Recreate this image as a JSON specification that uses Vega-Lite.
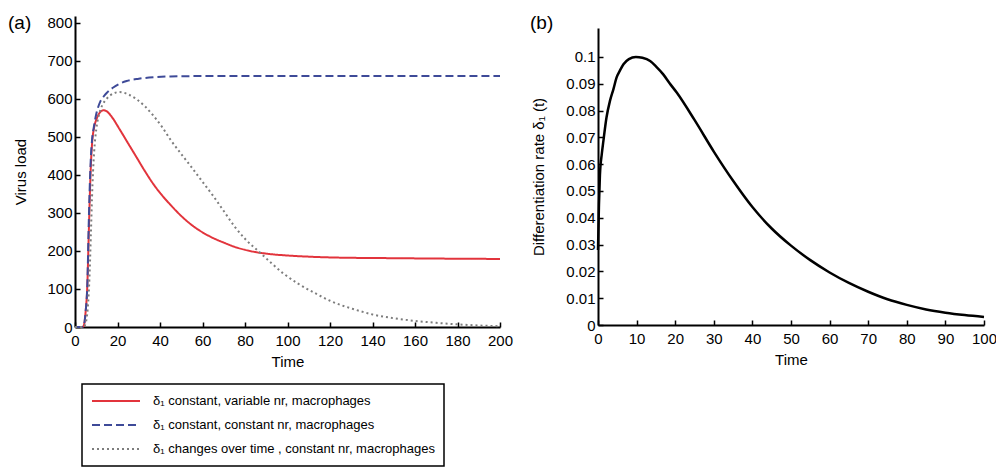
{
  "$schema": "https://vega.github.io/schema/vega-lite/v6.json",
  "padding": {"left": 8, "top": 14, "right": 4, "bottom": 0},
  "background": "white",
  "config": {
    "font": "Liberation Sans",
    "view": {"stroke": null},
    "concat": {"spacing": 17},
    "axis": {
      "domainColor": "black",
      "domainWidth": 2,
      "tickColor": "black",
      "tickWidth": 1.5,
      "tickSize": -5,
      "labelFontSize": 15,
      "labelColor": "black",
      "labelFlush": false,
      "titleFontSize": 15,
      "titleFontWeight": "normal",
      "titleColor": "black",
      "grid": false
    },
    "axisX": {"labelPadding": 11},
    "axisY": {"labelPadding": 8},
    "title": {"fontSize": 19, "fontWeight": "normal", "color": "black"}
  },
  "datasets": {
    "a": [
      {"series": "s1", "t": 0, "v": 0}, {"series": "s1", "t": 3, "v": 0}, {"series": "s1", "t": 4, "v": 2},
      {"series": "s1", "t": 5, "v": 40}, {"series": "s1", "t": 5.8, "v": 110}, {"series": "s1", "t": 6.5, "v": 250},
      {"series": "s1", "t": 7, "v": 350}, {"series": "s1", "t": 7.5, "v": 430}, {"series": "s1", "t": 8, "v": 480},
      {"series": "s1", "t": 9, "v": 525}, {"series": "s1", "t": 10, "v": 545}, {"series": "s1", "t": 11, "v": 558},
      {"series": "s1", "t": 12, "v": 566}, {"series": "s1", "t": 13.3, "v": 570}, {"series": "s1", "t": 15, "v": 567},
      {"series": "s1", "t": 17, "v": 555}, {"series": "s1", "t": 21, "v": 520}, {"series": "s1", "t": 25, "v": 483},
      {"series": "s1", "t": 29, "v": 446}, {"series": "s1", "t": 33, "v": 409}, {"series": "s1", "t": 37, "v": 375},
      {"series": "s1", "t": 41, "v": 346}, {"series": "s1", "t": 45, "v": 321}, {"series": "s1", "t": 50, "v": 292},
      {"series": "s1", "t": 55, "v": 268}, {"series": "s1", "t": 60, "v": 249}, {"series": "s1", "t": 65, "v": 234},
      {"series": "s1", "t": 70, "v": 222}, {"series": "s1", "t": 75, "v": 211}, {"series": "s1", "t": 80, "v": 203},
      {"series": "s1", "t": 85, "v": 197}, {"series": "s1", "t": 90, "v": 193}, {"series": "s1", "t": 100, "v": 188},
      {"series": "s1", "t": 110, "v": 185}, {"series": "s1", "t": 120, "v": 183}, {"series": "s1", "t": 130, "v": 182},
      {"series": "s1", "t": 150, "v": 181}, {"series": "s1", "t": 170, "v": 180}, {"series": "s1", "t": 200, "v": 179},

      {"series": "s2", "t": 0, "v": 0}, {"series": "s2", "t": 3, "v": 0}, {"series": "s2", "t": 4, "v": 2},
      {"series": "s2", "t": 5, "v": 40}, {"series": "s2", "t": 5.8, "v": 110}, {"series": "s2", "t": 6.5, "v": 280},
      {"series": "s2", "t": 7, "v": 380}, {"series": "s2", "t": 7.5, "v": 450}, {"series": "s2", "t": 8, "v": 490},
      {"series": "s2", "t": 9, "v": 530}, {"series": "s2", "t": 10, "v": 560}, {"series": "s2", "t": 11, "v": 580},
      {"series": "s2", "t": 12, "v": 594}, {"series": "s2", "t": 13.3, "v": 605}, {"series": "s2", "t": 15, "v": 616},
      {"series": "s2", "t": 18, "v": 630}, {"series": "s2", "t": 21, "v": 640}, {"series": "s2", "t": 24.3, "v": 647},
      {"series": "s2", "t": 30, "v": 653}, {"series": "s2", "t": 37, "v": 657}, {"series": "s2", "t": 45, "v": 659},
      {"series": "s2", "t": 60, "v": 660}, {"series": "s2", "t": 100, "v": 660}, {"series": "s2", "t": 200, "v": 660},

      {"series": "s3", "t": 0, "v": 0}, {"series": "s3", "t": 4, "v": 0}, {"series": "s3", "t": 5, "v": 10},
      {"series": "s3", "t": 6, "v": 50}, {"series": "s3", "t": 6.8, "v": 130}, {"series": "s3", "t": 7.5, "v": 250},
      {"series": "s3", "t": 8, "v": 340}, {"series": "s3", "t": 8.5, "v": 410}, {"series": "s3", "t": 9, "v": 460},
      {"series": "s3", "t": 10, "v": 520}, {"series": "s3", "t": 11, "v": 552}, {"series": "s3", "t": 12, "v": 572},
      {"series": "s3", "t": 13.3, "v": 588}, {"series": "s3", "t": 15, "v": 601}, {"series": "s3", "t": 18, "v": 614},
      {"series": "s3", "t": 21, "v": 618}, {"series": "s3", "t": 25, "v": 612}, {"series": "s3", "t": 29, "v": 599},
      {"series": "s3", "t": 33, "v": 580}, {"series": "s3", "t": 37, "v": 555}, {"series": "s3", "t": 41, "v": 526},
      {"series": "s3", "t": 45, "v": 492}, {"series": "s3", "t": 50, "v": 455}, {"series": "s3", "t": 55, "v": 419},
      {"series": "s3", "t": 60, "v": 382}, {"series": "s3", "t": 65, "v": 345}, {"series": "s3", "t": 70, "v": 305},
      {"series": "s3", "t": 75, "v": 265}, {"series": "s3", "t": 80, "v": 232}, {"series": "s3", "t": 87, "v": 196},
      {"series": "s3", "t": 93, "v": 165}, {"series": "s3", "t": 98, "v": 141}, {"series": "s3", "t": 105, "v": 114},
      {"series": "s3", "t": 114, "v": 86}, {"series": "s3", "t": 120, "v": 69}, {"series": "s3", "t": 125, "v": 58},
      {"series": "s3", "t": 130, "v": 49}, {"series": "s3", "t": 140, "v": 33}, {"series": "s3", "t": 150, "v": 23},
      {"series": "s3", "t": 160, "v": 16}, {"series": "s3", "t": 170, "v": 11}, {"series": "s3", "t": 180, "v": 7},
      {"series": "s3", "t": 190, "v": 4}, {"series": "s3", "t": 200, "v": 2}
    ],
    "b": [
      {"t": 0, "d": 0.028}, {"t": 0.25, "d": 0.045}, {"t": 0.5, "d": 0.056}, {"t": 1, "d": 0.064},
      {"t": 1.4, "d": 0.0687}, {"t": 2.2, "d": 0.0774}, {"t": 3.1, "d": 0.0836}, {"t": 4, "d": 0.088},
      {"t": 4.8, "d": 0.0923}, {"t": 5.7, "d": 0.095}, {"t": 6.6, "d": 0.0973}, {"t": 8, "d": 0.0992},
      {"t": 9.8, "d": 0.1}, {"t": 11.5, "d": 0.0997}, {"t": 13.5, "d": 0.0985}, {"t": 15, "d": 0.0965},
      {"t": 16.9, "d": 0.0935}, {"t": 18.5, "d": 0.0903}, {"t": 20.4, "d": 0.0867}, {"t": 25, "d": 0.0765},
      {"t": 30, "d": 0.0647}, {"t": 35, "d": 0.0538}, {"t": 40, "d": 0.0440}, {"t": 45, "d": 0.0360},
      {"t": 50, "d": 0.0296}, {"t": 55, "d": 0.0242}, {"t": 60, "d": 0.0196}, {"t": 65, "d": 0.0157},
      {"t": 70, "d": 0.0124}, {"t": 75, "d": 0.0096}, {"t": 80, "d": 0.0075}, {"t": 85, "d": 0.0058},
      {"t": 90, "d": 0.0046}, {"t": 95, "d": 0.0037}, {"t": 100, "d": 0.003}
    ]
  },
  "hconcat": [
    {
      "width": 425,
      "height": 311,
      "title": {"text": "(a)", "orient": "none", "anchor": "start", "frame": "group", "dx": -67, "dy": 13, "offset": 0, "baseline": "alphabetic"},
      "data": {"name": "a"},
      "transform": [
        {"calculate": "datum.series === 's1' ? 'δ₁ constant, variable nr, macrophages' : datum.series === 's2' ? 'δ₁ constant, constant nr, macrophages' : 'δ₁ changes over time , constant nr, macrophages'", "as": "label"}
      ],
      "mark": {"type": "line", "interpolate": "monotone", "strokeWidth": 2},
      "encoding": {
        "x": {"field": "t", "type": "quantitative", "title": "Time",
              "scale": {"domain": [0, 200], "nice": false},
              "axis": {"values": [0, 20, 40, 60, 80, 100, 120, 140, 160, 180, 200], "titlePadding": 6}},
        "y": {"field": "v", "type": "quantitative", "title": "Virus load",
              "scale": {"domain": [0, 818], "nice": false},
              "axis": {"values": [0, 100, 200, 300, 400, 500, 600, 700, 800], "titlePadding": 18}},
        "color": {"field": "label", "type": "nominal",
          "scale": {"domain": ["δ₁ constant, variable nr, macrophages", "δ₁ constant, constant nr, macrophages", "δ₁ changes over time , constant nr, macrophages"],
                    "range": ["#e2343c", "#3e4a98", "#7d7d7d"]},
          "legend": {
            "title": null, "orient": "none", "legendX": 7, "legendY": 368, "direction": "vertical",
            "symbolType": "stroke", "symbolSize": 2304, "symbolStrokeWidth": 2, "clipHeight": 16,
            "rowPadding": 8, "labelFontSize": 13, "labelOffset": 12, "labelLimit": 500, "labelColor": "black",
            "padding": 9, "strokeColor": "black", "fillColor": "white",
            "encode": {"legend": {"update": {"strokeWidth": {"value": 1.5}}}}
          }},
        "strokeDash": {"field": "label", "type": "nominal",
          "scale": {"domain": ["δ₁ constant, variable nr, macrophages", "δ₁ constant, constant nr, macrophages", "δ₁ changes over time , constant nr, macrophages"],
                    "range": [[1, 0], [8, 4], [2, 3]]},
          "legend": {
            "title": null, "orient": "none", "legendX": 7, "legendY": 368, "direction": "vertical",
            "symbolType": "stroke", "symbolSize": 2304, "symbolStrokeWidth": 2, "clipHeight": 16,
            "rowPadding": 8, "labelFontSize": 13, "labelOffset": 12, "labelLimit": 500, "labelColor": "black",
            "padding": 9, "strokeColor": "black", "fillColor": "white",
            "encode": {"legend": {"update": {"strokeWidth": {"value": 1.5}}}}
          }}
      }
    },
    {
      "width": 386,
      "height": 309,
      "title": {"text": "(b)", "orient": "none", "anchor": "start", "frame": "group", "dx": -68, "dy": 13, "offset": 0, "baseline": "alphabetic"},
      "data": {"name": "b"},
      "mark": {"type": "line", "interpolate": "monotone", "strokeWidth": 2.5, "color": "black"},
      "encoding": {
        "x": {"field": "t", "type": "quantitative", "title": "Time",
              "scale": {"domain": [0, 100], "nice": false},
              "axis": {"values": [0, 10, 20, 30, 40, 50, 60, 70, 80, 90, 100], "titlePadding": 6}},
        "y": {"field": "d", "type": "quantitative", "title": "Differentiation rate δ₁ (t)",
              "scale": {"domain": [0, 0.1108], "nice": false, "range": [309, 12]},
              "axis": {"values": [0, 0.01, 0.02, 0.03, 0.04, 0.05, 0.06, 0.07, 0.08, 0.09, 0.1], "titlePadding": 19,
                       "labelExpr": "datum.value === 0 ? '0' : format(datum.value, '.2~f')"}}
      }
    }
  ]
}
